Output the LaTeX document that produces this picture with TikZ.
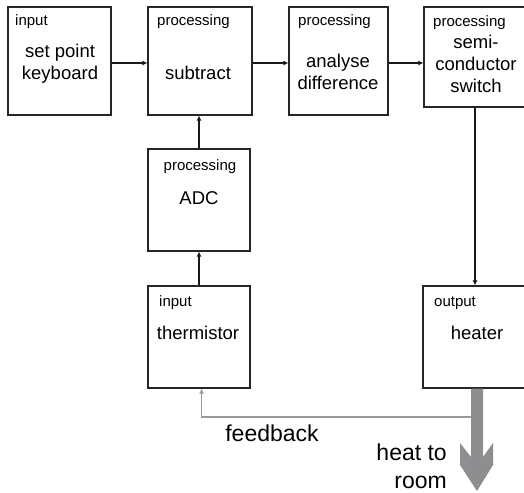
\documentclass[tikz,border=0pt]{standalone}
\usepackage{fontspec}
\setmainfont{Liberation Sans}
\usetikzlibrary{arrows.meta}
\definecolor{fbgray}{HTML}{9A9A9A}
\definecolor{heatgray}{HTML}{8E8E90}
\tikzset{
  blk/.style={draw=black!85, line width=1.2pt, rectangle, inner sep=0pt},
  lbl/.style={font=\fontsize{15}{17}\selectfont, inner sep=0pt, anchor=west},
  clbl/.style={font=\fontsize{15}{17}\selectfont, inner sep=0pt},
  main/.style={font=\fontsize{18.5}{22}\selectfont, align=center, inner sep=0pt},
  big/.style={font=\fontsize{23}{28}\selectfont, inner sep=0pt},
  arr/.style={line width=1.5pt, black!90, -{Latex[length=5pt,width=5pt]}},
  fb/.style={line width=1.5pt, fbgray, -{Latex[length=5pt,width=5pt]}}
}
\begin{document}
\begin{tikzpicture}[x=1pt,y=-1pt]
\useasboundingbox (0,0) rectangle (524,492);
% boxes
\node[blk, minimum width=103pt, minimum height=108pt] (b1) at (59.5,61) {};
\node[blk, minimum width=104pt, minimum height=108pt] (b2) at (200,61) {};
\node[blk, minimum width=99pt, minimum height=108pt] (b3) at (338.5,61) {};
\node[blk, minimum width=102pt, minimum height=100pt] (b4) at (475,57) {};
\node[blk, minimum width=102pt, minimum height=102pt] (adc) at (199,200) {};
\node[blk, minimum width=102pt, minimum height=102pt] (th) at (199,337) {};
\node[blk, minimum width=103pt, minimum height=102pt] (ht) at (474.5,337) {};
% labels
\node[lbl] (l1) at (15,22) {input};
\node[main] (t1) at (60,64) {set point\\keyboard};
\node[lbl] (l2) at (157,22) {processing};
\node[main] (t2) at (198,73) {subtract};
\node[lbl] (l3) at (298,22) {processing};
\node[main] (t3) at (338,72) {analyse\\difference};
\node[lbl] (l4) at (433,23) {processing};
\node[main] (t4) at (476,64) {semi-\\conductor\\switch};
\node[clbl] (l5) at (200,167) {processing};
\node[main] (t5) at (199,198) {ADC};
\node[lbl] (l6) at (159,303) {input};
\node[main] (t6) at (198,333) {thermistor};
\node[lbl] (l7) at (434,303) {output};
\node[main] (t7) at (477,333) {heater};
\node[big] (fbt) at (272,433) {feedback};
\node[big, align=right, anchor=east] (heat) at (447,466) {heat to\\room};
% connectors
\coordinate (row) at (0,63);
\coordinate (col) at (475,0);
\draw[arr] (b1.east |- row) -- (b2.west |- row);
\draw[arr] (b2.east |- row) -- (b3.west |- row);
\draw[arr] (b3.east |- row) -- (b4.west |- row);
\draw[arr] (b4.south -| col) -- (ht.north -| col);
\draw[arr] (adc.north) -- (b2.south -| adc.north);
\draw[arr] (th.north) -- (adc.south);
\coordinate (fbs) at (471,417);
\draw[fb] (fbs) -| ([xshift=2.5pt]th.south);
% heat arrow
\fill[heatgray] (471,388.6) -- (483,388.6) -- (483,457) -- (493,443) -- (493,465) -- (477,491) -- (460,465) -- (460,443) -- (471,457) -- cycle;
\end{tikzpicture}
\end{document}
